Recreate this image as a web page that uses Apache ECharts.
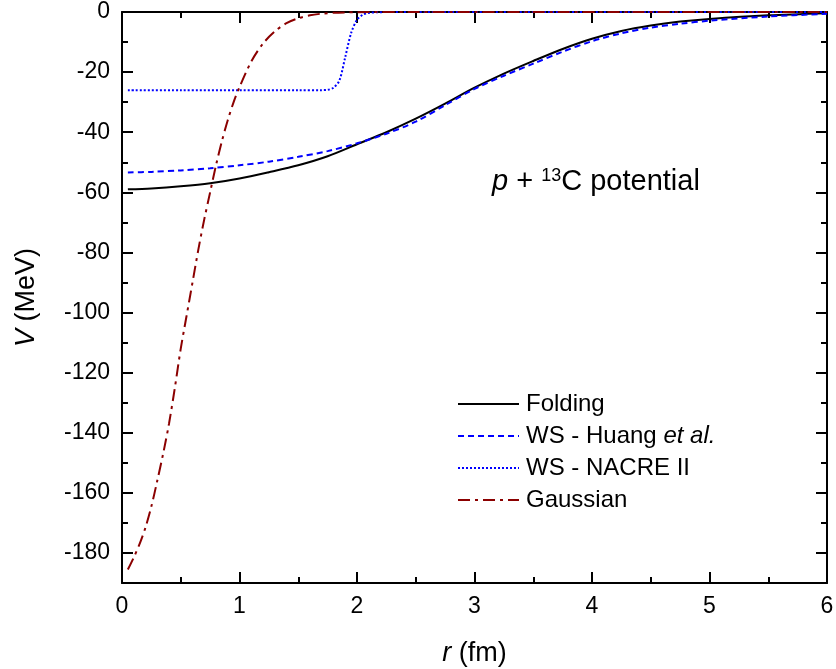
<!DOCTYPE html>
<html>
<head>
<meta charset="utf-8">
<script src="https://cdn.jsdelivr.net/npm/echarts@6/dist/echarts.min.js"></script>
<style>html,body{margin:0;padding:0;background:#fff;}#c{width:836px;height:669px;}</style>
</head>
<body>
<div id="c"></div>
<script>
// ---- data ----
const rFold = [0.05,0.25,0.5,0.75,1.0,1.25,1.5,1.75,2.0,2.25,2.5,2.75,3.0,3.25,3.5,3.75,4.0,4.25,4.5,4.75,5.0,5.5,6.0];
const vFold = [-59,-58.7,-58,-57,-55.4,-53.3,-51,-48,-44,-40,-35.5,-30.5,-25.2,-20.5,-16.3,-12.3,-8.9,-6.3,-4.5,-3.2,-2.3,-1.1,-0.4];

const rHuang = [0.05,0.25,0.5,0.75,1.0,1.25,1.5,1.75,2.0,2.25,2.5,2.75,3.0,3.25,3.5,3.75,4.0,4.25,4.5,4.75,5.0,5.5,6.0];
const vHuang = [-53.4,-53.2,-52.7,-52,-51,-49.8,-48.2,-46.3,-43.7,-40.5,-36.5,-31,-25.6,-21.2,-17.2,-13.2,-9.7,-7.1,-5.2,-3.9,-2.9,-1.5,-0.6];

const rNacre = [0.05,0.5,1.0,1.5,1.7,1.75,1.8,1.85,1.9,1.95,2.0,2.05,2.1,2.2,2.5,3.0,4.0,5.0,6.0];
const vNacre = [-26,-26,-26,-26,-26,-25.9,-25.2,-22.8,-15,-7,-2.6,-0.9,-0.3,-0.05,0,0,0,0,0];

const rGauss = [0.05,0.1,0.15,0.2,0.25,0.3,0.35,0.4,0.45,0.5,0.55,0.6,0.65,0.7,0.75,0.8,0.85,0.9,0.95,1.0,1.1,1.2,1.3,1.4,1.5,1.6,1.7,1.8,1.9,2.0,2.5,3.0,4.0,5.0,6.0];
const vGauss = [-185.5,-181.5,-177,-171.5,-164.5,-156,-147,-137,-125,-112,-101,-90,-79,-69,-60,-51,-43,-36,-30,-25,-16.5,-10.5,-6.5,-3.7,-2.1,-1.1,-0.55,-0.27,-0.12,-0.05,0,0,0,0,0];

const seriesNames = ['Folding','WS - Huang et al.','WS - NACRE II','Gaussian'];
const xTicks = [0,1,2,3,4,5,6];
const yMajor = [0,-20,-40,-60,-80,-100,-120,-140,-160,-180];
const yMinor = [-10,-30,-50,-70,-90,-110,-130,-150,-170];

const pairs = (r, v) => r.map((x, i) => [x, v[i]]);
const FONT = 'Liberation Sans, Arial, sans-serif';

const chart = echarts.init(document.getElementById('c'), null, {renderer: 'canvas'});

function xAx(pos, showLabel) {
  return {
    type: 'value', position: pos, min: 0, max: 6, interval: 1,
    axisLine: {show: true, onZero: false, lineStyle: {color: '#000', width: 2}},
    axisTick: {show: true, inside: true, length: 11, lineStyle: {color: '#000', width: 2}},
    minorTick: {show: true, splitNumber: 2, length: 6, lineStyle: {color: '#000', width: 2}},
    splitLine: {show: false}, minorSplitLine: {show: false},
    axisLabel: {show: showLabel, color: '#000', fontSize: 23, fontFamily: FONT, margin: 12},
    name: showLabel ? '{i|r} (fm)' : '', nameLocation: 'middle', nameGap: 57,
    nameTextStyle: {color: '#000', fontSize: 27, fontFamily: FONT, rich: {i: {fontStyle: 'italic', fontSize: 27, fontFamily: FONT, color: '#000'}}}
  };
}
function yAx(pos, vals, len, showLabel, showLine, name) {
  return {
    type: 'value', position: pos, min: -190, max: 0,
    axisLine: {show: showLine, onZero: false, lineStyle: {color: '#000', width: 2}},
    axisTick: {show: true, inside: true, length: len, customValues: vals, lineStyle: {color: '#000', width: 2}},
    splitLine: {show: false},
    axisLabel: {show: showLabel, customValues: vals, color: '#000', fontSize: 23, fontFamily: FONT, margin: 12},
    name: name || '', nameLocation: 'middle', nameGap: 82,
    nameTextStyle: {color: '#000', fontSize: 27, fontFamily: FONT, rich: {i: {fontStyle: 'italic', fontSize: 27, fontFamily: FONT, color: '#000'}}}
  };
}

const option = {
  backgroundColor: '#fff',
  animation: false,
  grid: {left: 122, right: 9, top: 12, bottom: 86, containLabel: false, outerBoundsMode: 'none'},
  xAxis: [xAx('bottom', true), xAx('top', false)],
  yAxis: [
    yAx('left', yMajor, 11, true, true, '{i|V} (MeV)'),
    yAx('left', yMinor, 6, false, false),
    yAx('right', yMajor, 11, false, true),
    yAx('right', yMinor, 6, false, false)
  ],
  legend: {
    orient: 'vertical', left: 457, top: 391, padding: 0, itemWidth: 61, itemHeight: 14, itemGap: 6,
    itemStyle: {opacity: 0},
    textStyle: {color: '#000', fontSize: 24, fontFamily: FONT, lineHeight: 26, padding: [0, 0, 0, 2],
      rich: {n: {fontSize: 24, fontFamily: FONT, color: '#000', lineHeight: 26}, i: {fontSize: 24, fontFamily: FONT, color: '#000', fontStyle: 'italic', lineHeight: 26}}},
    formatter: function (n) { return n === 'WS - Huang et al.' ? '{n|WS - Huang }{i|et al.}' : '{n|' + n + '}'; },
    data: seriesNames
  },
  graphic: [{
    type: 'text', left: 492, top: 167,
    style: {
      text: '{i|p} + {s|13}C potential',
      font: '29px ' + FONT, fill: '#000',
      rich: {
        i: {fontStyle: 'italic', fontSize: 29, fontFamily: FONT, fill: '#000'},
        s: {fontSize: 18, fontFamily: FONT, verticalAlign: 'top', fill: '#000'}
      }
    }
  }],
  series: [
    {name: seriesNames[0], type: 'line', data: pairs(rFold, vFold), smooth: 0.3, symbol: 'none',
     lineStyle: {color: '#000', width: 2, type: 'solid'}, itemStyle: {color: '#000'}},
    {name: seriesNames[1], type: 'line', data: pairs(rHuang, vHuang), smooth: 0.3, symbol: 'none',
     lineStyle: {color: '#0000ff', width: 2, type: [6, 4]}, itemStyle: {color: '#0000ff'}},
    {name: seriesNames[2], type: 'line', data: pairs(rNacre, vNacre), smooth: 0.3, symbol: 'none',
     lineStyle: {color: '#0000ff', width: 2, type: [2, 2]}, itemStyle: {color: '#0000ff'}},
    {name: seriesNames[3], type: 'line', data: pairs(rGauss, vGauss), smooth: 0.3, symbol: 'none',
     lineStyle: {color: '#8b0000', width: 2, type: [12, 5, 3, 5]}, itemStyle: {color: '#8b0000'}}
  ]
};
chart.setOption(option);
</script>
</body>
</html>
